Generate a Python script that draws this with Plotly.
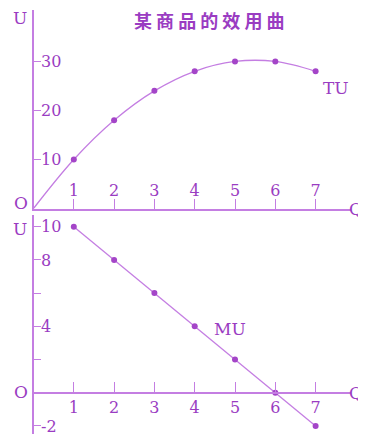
import plotly.graph_objects as go

q = [1, 2, 3, 4, 5, 6, 7]
tu = [10, 18, 24, 28, 30, 30, 28]
mu = [10, 8, 6, 4, 2, 0, -2]

tu_ticks = [10, 20, 30]
mu_ticks = [10, 8, 6, 4, 2, -2]
mu_ticktext = ["10", "8", "", "4", "", "-2"]

line_col = "#c47ee2"
dot_col = "#a445c8"
text_col = "#9a3cc2"
num_font = dict(family="DejaVu Serif", size=16, color=text_col)

fig = go.Figure()

# TU curve starts at the origin
fig.add_trace(go.Scatter(x=[0] + q, y=[0] + tu, mode="lines",
                         line=dict(color=line_col, width=1.3, shape="spline"),
                         xaxis="x", yaxis="y", hoverinfo="skip"))
fig.add_trace(go.Scatter(x=q, y=tu, mode="markers",
                         marker=dict(color=dot_col, size=6),
                         xaxis="x", yaxis="y"))
fig.add_trace(go.Scatter(x=q, y=mu, mode="lines+markers",
                         line=dict(color=line_col, width=1.3),
                         marker=dict(color=dot_col, size=6),
                         xaxis="x2", yaxis="y2"))

W, H = 366, 434
off = 8  # page body margin shifts the plot down/right
x0, x1 = 33.5 - off, 351 - off
xr = [0, (x1 - x0) / 40.3]

def py(v):
    return 1 - (v - off) / H

fig.update_layout(
    width=W, height=H, margin=dict(l=0, r=0, t=0, b=0),
    plot_bgcolor="white", paper_bgcolor="white", showlegend=False,
    xaxis=dict(domain=[x0 / W, x1 / W], range=xr, anchor="y",
               tickvals=q, ticks="inside", ticklen=10, tickcolor=line_col,
               ticklabelposition="inside", tickfont=num_font,
               showline=True, linecolor=line_col, linewidth=1.5,
               showgrid=False, zeroline=False),
    yaxis=dict(domain=[py(208.5), py(10)], range=[0, 40.5], anchor="x",
               tickvals=tu_ticks, ticks="inside", ticklen=8, tickcolor=line_col,
               ticklabelposition="inside", tickfont=num_font,
               showline=True, linecolor=line_col, linewidth=1.5,
               showgrid=False, zeroline=False),
    xaxis2=dict(domain=[x0 / W, x1 / W], range=xr, anchor="free",
                position=py(392.7),
                tickvals=q, ticks="inside", ticklen=10, tickcolor=line_col,
                tickfont=num_font,
                showline=True, linecolor=line_col, linewidth=1.5,
                showgrid=False, zeroline=False),
    yaxis2=dict(domain=[0, py(215)],
                range=[(392.7 - 442) / 16.6, (392.7 - 215) / 16.6], anchor="x2",
                tickvals=mu_ticks, ticktext=mu_ticktext, ticks="inside",
                ticklen=8, tickcolor=line_col,
                ticklabelposition="inside", tickfont=num_font,
                showline=True, linecolor=line_col, linewidth=1.5,
                showgrid=False, zeroline=False),
)

lab_font = dict(family="DejaVu Serif", size=17, color=text_col)
notes = [
    ("U", 20, 18, "center"), ("O", 21, 203, "center"), ("Q", 365, 209, "right"),
    ("U", 20, 229, "center"), ("O", 21, 392, "center"), ("Q", 365, 393, "right"),
    ("TU", 336, 88, "center"), ("MU", 230, 329, "center"),
]
for txt, px, pyv, xa in notes:
    fig.add_annotation(text=txt, x=(px - off) / W, y=py(pyv), xref="paper", yref="paper",
                       showarrow=False, font=lab_font,
                       xanchor=xa, yanchor="middle")

fig.add_annotation(text="某 商 品 的 效 用 曲", x=(209 - off) / W, y=py(20),
                   xref="paper", yref="paper", showarrow=False,
                   xanchor="center", yanchor="middle",
                   font=dict(family="Noto Sans CJK SC", size=18, color=text_col,
                             weight="bold"))

fig.write_html("out.html")
